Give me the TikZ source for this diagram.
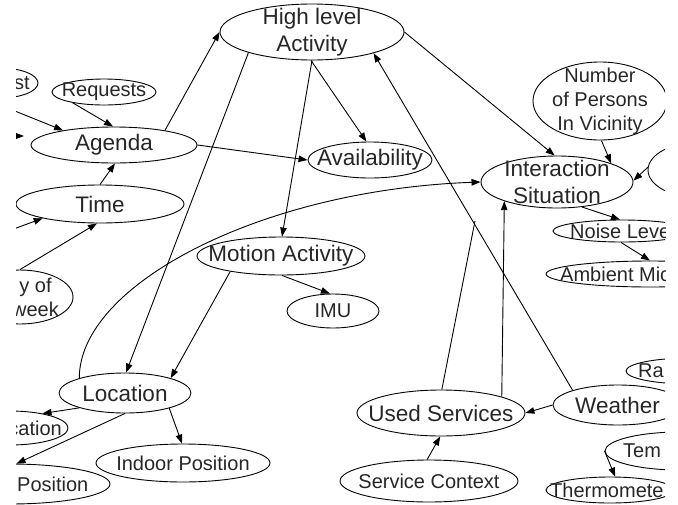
\documentclass[tikz,border=0pt]{standalone}
\usepackage{fontspec}
\setmainfont{Liberation Sans}
\usetikzlibrary{shapes.geometric,arrows.meta}
\begin{document}
\begin{tikzpicture}[x=1pt,y=-1pt,
  bubble/.style 2 args={draw=black, line width=0.9pt, ellipse, inner sep=0pt,
    minimum width=#1pt, minimum height=#2pt},
  bigtxt/.style={inner sep=0pt, align=center, font=\fontsize{22.5}{26.5}\selectfont, text=black!85},
  smalltxt/.style={inner sep=0pt, align=center, font=\fontsize{20}{24}\selectfont, text=black!85},
  edge/.style={draw=black, line width=0.9pt, -{Triangle[length=9pt,width=6.5pt]}},
  plain/.style={draw=black, line width=0.9pt}]
\useasboundingbox (0,0) rectangle (678,504);
\begin{scope}
\clip (16,0) rectangle (665,504);

% activity nodes
\node[bubble={184}{56}] (hla) at (312,32) {};
\node[bigtxt] (hlat) at (hla) {High level\\Activity};

\node[bubble={76}{30}] (lastreq) at (0,83) {};
\node[smalltxt, anchor=east] (lastreqt) at (30,83) {st};

\node[bubble={104}{26}] (req) at (104,92) {};
\node[smalltxt] (reqt) at (req) {Requests};

\node[bubble={166}{36}] (agenda) at (114,145) {};
\node[bigtxt] (agendat) at (agenda) {Agenda};

\node[bubble={168}{38}] (time) at (100,204) {};
\node[bigtxt] (timet) at (time) {Time};

\node[bubble={106}{54}] (dow) at (20,297) {};
\node[smalltxt] (dowt) at (35.5,297) {y of\\week};

\node[bubble={124}{36}] (avail) at (370,160) {};
\node[bigtxt] (availt) at (avail) {Availability};

% interaction side
\node[bubble={152}{52}] (inter) at (557,182) {};
\node[bigtxt] (intert) at (inter) {Interaction\\Situation};

\node[bubble={134}{78}] (npers) at (600,101) {};
\node[smalltxt] (npersst) at (npers) {Number\\of Persons\\In Vicinity};

\node[bubble={104}{56}] (rpart) at (700,170) {};

\node[bubble={138}{22}] (noise) at (622,231) {};
\node[smalltxt, anchor=west] (noiset) at (570,231) {Noise Leve};

\node[bubble={208}{26}] (amb) at (650,274) {};
\node[smalltxt, anchor=west] (ambt) at (560,274) {Ambient Mic};

% motion and location
\node[bubble={168}{38}] (motion) at (281,256) {};
\node[bigtxt] (motiont) at (motion) {Motion Activity};

\node[bubble={92}{34}] (imu) at (333,311) {};
\node[smalltxt] (imut) at (imu) {IMU};

\node[bubble={132}{40}] (loc) at (125,393) {};
\node[bigtxt] (loct) at (loc) {Location};

\node[bubble={116}{34}] (cation) at (10,428) {};
\node[smalltxt, anchor=east] (cationt) at (62,428) {cation};

\node[bubble={200}{40}] (pos) at (10,484) {};
\node[smalltxt, anchor=west] (post) at (17,484) {Position};

\node[bubble={174}{38}] (indoor) at (183,463) {};
\node[smalltxt] (indoort) at (indoor) {Indoor Position};

% services and weather
\node[bubble={168}{46}] (used) at (441,413) {};
\node[bigtxt] (usedt) at (used) {Used Services};

\node[bubble={178}{42}] (svc) at (429,481) {};
\node[smalltxt] (svct) at (svc) {Service Context};

\node[bubble={130}{40}] (weather) at (618,405) {};
\node[bigtxt, anchor=west] (weathert) at (575,405) {Weather};

\node[bubble={128}{26}] (ra) at (690,371) {};
\node[smalltxt, anchor=west] (rat) at (638,371) {Ra};

\node[bubble={150}{38}] (tem) at (680,451) {};
\node[smalltxt, anchor=west] (temt) at (623,451) {Tem};

\node[bubble={128}{26}] (thermo) at (610,490) {};
\node[smalltxt, anchor=west] (thermot) at (550,490) {Thermomete};

% loose ends
\coordinate (inA) at (0,105);
\coordinate (inB) at (0,234);
\coordinate (stubA) at (6,136);
\coordinate (stubB) at (24,136);
\coordinate (usedEnd) at (475,221);

% connectors
\draw[edge] (agenda.16) -- (hla.180);
\draw[edge] (hla.198) -- (loc.87);
\draw[edge] (hla.270) -- (motion.87);
\draw[edge] (hla.268) -- (avail.101);
\draw[edge] (hla.0) -- (inter.95);
\draw[edge] (weather.162) -- (hla.341);
\draw[edge] (agenda.0) -- (avail.180);
\draw[edge] (inA) -- (agenda.164);
\draw[edge] (req.199) -- (agenda.93);
\draw[edge] (stubA) -- (stubB);
\draw[edge] (time.90) -- (agenda.273);
\draw[edge] (inB) -- (time.194);
\draw[edge] (dow.90) -- (time.261);
\draw[edge] (loc.162) .. controls (79,285) and (260,190) .. (inter.180);
\draw[edge] (motion.197) -- (loc.18);
\draw[edge] (motion.273) -- (imu.100);
\draw[edge] (loc.198) -- (cation.24);
\draw[edge] (loc.270) -- (pos.72);
\draw[edge] (loc.341) -- (indoor.93);
\draw[edge] (used.15) -- (inter.200);
\draw[plain] (used.88) -- (usedEnd);
\draw[edge] (weather.180) -- (used.0);
\draw[edge] (svc.95) -- (used.268);
\draw[edge] (tem.180) -- (thermo.69);
\draw[edge] (npers.272) -- (inter.19);
\draw[edge] (rpart.177) -- (inter.1);
\draw[edge] (inter.315) -- (noise.100);
\draw[edge] (noise.265) -- (amb.90);
\end{scope}
\end{tikzpicture}
\end{document}
